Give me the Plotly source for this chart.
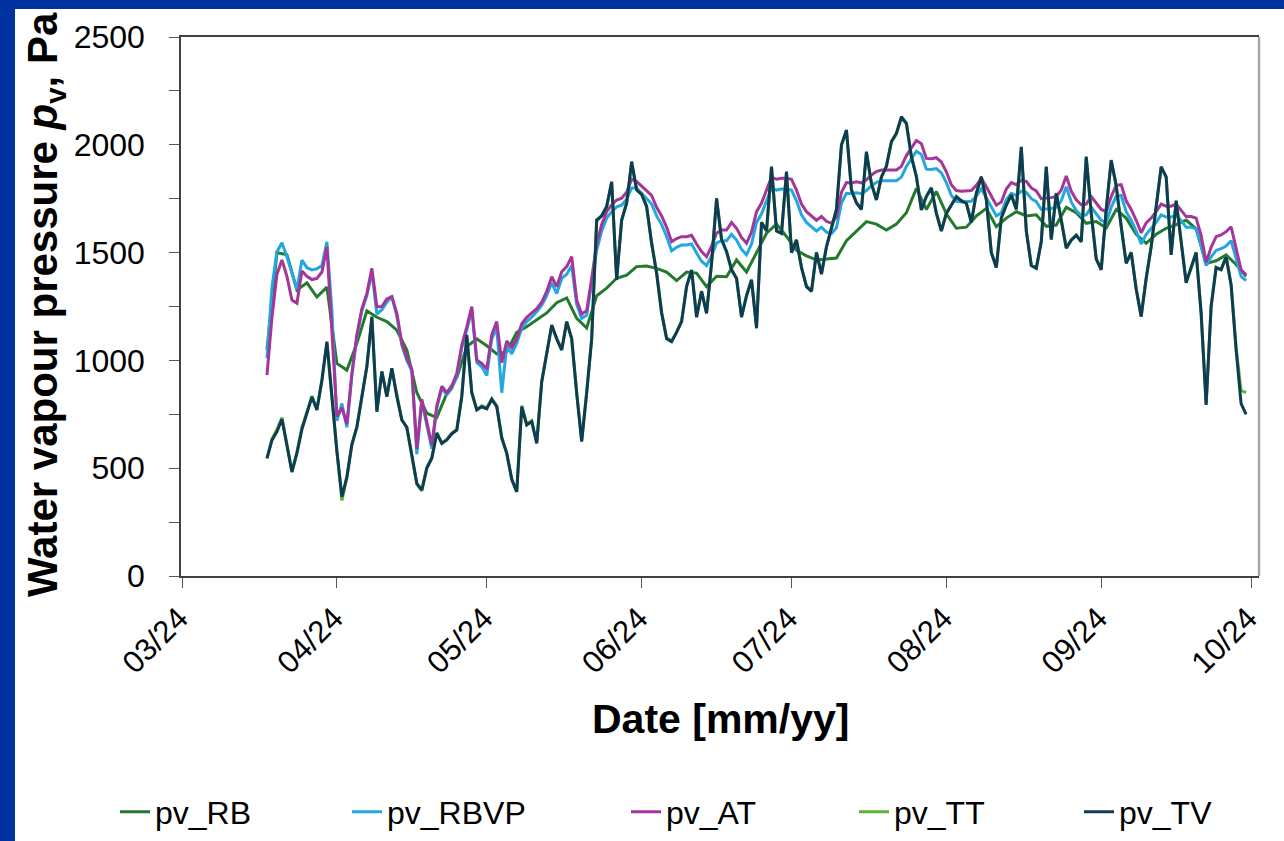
import pandas as pd
import plotly.graph_objects as go

# ---------------- data (daily values, Pa) ----------------
start_day = "2024-03-18"

# pv_TV, daily from 18 Mar to 30 Sep 2024
tv_mar = [546, 630, 670, 727, 605, 484, 570, 680, 756, 830, 770, 909, 1087, 820]
tv_apr = [580, 368, 460, 610, 692, 830, 971, 1203, 762, 948, 832, 963, 832, 723, 690,
          560, 430, 399, 500, 546, 662, 615, 631, 660, 677, 832, 1118, 850, 770, 785]
tv_may = [775, 820, 785, 640, 570, 450, 390, 785, 700, 716, 615, 900, 1033, 1164, 1100,
          1048, 1180, 1100, 847, 623, 850, 1100, 1651, 1670, 1713, 1829, 1373, 1650, 1729, 1922, 1790]
tv_jun = [1770, 1713, 1543, 1404, 1220, 1100, 1087, 1130, 1180, 1342, 1419, 1200, 1320, 1218, 1450,
          1752, 1560, 1504, 1420, 1380, 1200, 1300, 1373, 1149, 1640, 1600, 1899, 1600, 1589, 1876]
tv_jul = [1500, 1558, 1430, 1342, 1320, 1500, 1400, 1527, 1610, 1700, 2000, 2069, 1790, 1730, 1700,
          1968, 1820, 1744, 1850, 1900, 2015, 2054, 2130, 2100, 1945, 1852, 1698, 1760, 1800, 1682, 1600]
tv_aug = [1682, 1720, 1759, 1740, 1729, 1640, 1775, 1852, 1744, 1500, 1430, 1660, 1720, 1767, 1700,
          1990, 1600, 1440, 1427, 1550, 1899, 1560, 1775, 1650, 1520, 1558, 1580, 1550, 1945, 1682, 1470]
tv_sep = [1420, 1700, 1929, 1810, 1620, 1450, 1500, 1330, 1203, 1380, 1527, 1700, 1899, 1850, 1489,
          1740, 1560, 1360, 1430, 1500, 1218, 793, 1250, 1430, 1420, 1480, 1350, 1050, 800, 750]

# pv_TT, daily
tt_mar = [546, 635, 680, 735, 610, 480, 575, 690, 760, 835, 775, 905, 1080, 815]
tt_apr = [575, 350, 455, 612, 690, 835, 975, 1195, 765, 950, 835, 960, 835, 725, 688,
          555, 425, 395, 505, 550, 665, 618, 633, 662, 680, 835, 1110, 852, 772, 790]
tt_may = [780, 822, 790, 645, 568, 445, 392, 790, 705, 720, 618, 905, 1035, 1160, 1102,
          1050, 1178, 1102, 850, 628, 852, 1098, 1645, 1672, 1715, 1825, 1380, 1652, 1730, 1915, 1792]
tt_jun = [1772, 1715, 1545, 1408, 1225, 1105, 1090, 1132, 1182, 1345, 1420, 1205, 1322, 1220, 1452,
          1748, 1562, 1506, 1422, 1382, 1205, 1302, 1375, 1155, 1642, 1602, 1895, 1602, 1590, 1872]
tt_jul = [1502, 1560, 1432, 1345, 1322, 1502, 1402, 1528, 1612, 1702, 1995, 2065, 1792, 1732, 1702,
          1962, 1822, 1746, 1852, 1902, 2012, 2050, 2125, 2098, 1947, 1854, 1700, 1762, 1802, 1684, 1602]
tt_aug = [1684, 1722, 1760, 1742, 1730, 1642, 1776, 1850, 1746, 1502, 1432, 1662, 1722, 1768, 1702,
          1985, 1602, 1442, 1430, 1552, 1895, 1562, 1776, 1652, 1522, 1560, 1582, 1552, 1940, 1684, 1472]
tt_sep = [1422, 1702, 1925, 1812, 1622, 1452, 1502, 1332, 1205, 1382, 1528, 1702, 1895, 1852, 1492,
          1742, 1562, 1362, 1432, 1502, 1222, 800, 1252, 1432, 1422, 1482, 1352, 1060, 860, 850]

# pv_AT, daily
at_mar = [932, 1200, 1400, 1466, 1390, 1280, 1265, 1415, 1390, 1375, 1380, 1410, 1527, 1150]
at_apr = [740, 780, 705, 940, 1120, 1240, 1311, 1427, 1249, 1250, 1285, 1296, 1218, 1080, 1010,
          960, 590, 820, 720, 607, 790, 880, 850, 880, 940, 1071, 1156, 1249, 1002, 986]
at_may = [960, 1120, 1180, 990, 1090, 1060, 1100, 1170, 1200, 1218, 1240, 1270, 1320, 1388, 1342,
          1411, 1435, 1481, 1280, 1215, 1230, 1380, 1540, 1630, 1690, 1721, 1744, 1752, 1780, 1840, 1830]
at_jun = [1808, 1788, 1765, 1710, 1670, 1618, 1550, 1565, 1574, 1574, 1580, 1540, 1505, 1481, 1530,
          1590, 1605, 1605, 1640, 1613, 1570, 1543, 1595, 1690, 1730, 1790, 1850, 1840, 1845, 1845]
at_jul = [1840, 1790, 1725, 1690, 1670, 1650, 1668, 1645, 1636, 1665, 1780, 1825, 1823, 1828, 1823,
          1838, 1860, 1876, 1883, 1883, 1883, 1883, 1900, 1950, 1985, 2020, 2005, 1937, 1935, 1940, 1920]
at_aug = [1875, 1815, 1788, 1785, 1788, 1788, 1812, 1845, 1805, 1762, 1720, 1735, 1795, 1825, 1815,
          1835, 1830, 1800, 1786, 1750, 1752, 1755, 1760, 1790, 1855, 1785, 1745, 1722, 1725, 1760, 1730]
at_sep = [1700, 1690, 1760, 1812, 1815, 1740, 1700, 1650, 1592, 1638, 1660, 1690, 1725, 1715, 1715,
          1725, 1698, 1667, 1667, 1660, 1580, 1455, 1525, 1574, 1582, 1597, 1620, 1520, 1420, 1397]

# pv_RBVP, daily
rbvp_mar = [1010, 1340, 1504, 1546, 1480, 1400, 1330, 1465, 1430, 1420, 1425, 1440, 1550, 1230]
rbvp_apr = [720, 800, 690, 930, 1110, 1230, 1300, 1410, 1215, 1235, 1270, 1296, 1205, 1070, 1000,
            950, 565, 810, 700, 590, 780, 870, 840, 870, 925, 1060, 1140, 1235, 990, 970]
rbvp_may = [930, 1100, 1150, 850, 1070, 1030, 1080, 1150, 1180, 1200, 1225, 1255, 1300, 1360, 1310,
            1380, 1400, 1440, 1260, 1195, 1210, 1360, 1510, 1600, 1660, 1690, 1712, 1720, 1748, 1800, 1800]
rbvp_jun = [1775, 1752, 1725, 1670, 1630, 1575, 1508, 1525, 1535, 1535, 1540, 1498, 1460, 1440, 1485,
            1545, 1555, 1555, 1585, 1558, 1515, 1490, 1540, 1640, 1680, 1740, 1800, 1790, 1795, 1795]
rbvp_jul = [1790, 1740, 1675, 1640, 1620, 1600, 1618, 1595, 1588, 1615, 1730, 1775, 1773, 1778, 1773,
            1788, 1810, 1826, 1833, 1833, 1833, 1833, 1850, 1900, 1935, 1970, 1955, 1887, 1885, 1890, 1870]
rbvp_aug = [1825, 1765, 1738, 1735, 1738, 1738, 1762, 1795, 1755, 1712, 1670, 1685, 1745, 1775, 1765,
            1785, 1780, 1750, 1736, 1700, 1702, 1705, 1710, 1740, 1805, 1735, 1695, 1672, 1675, 1710, 1680]
rbvp_sep = [1650, 1640, 1710, 1762, 1765, 1690, 1650, 1600, 1540, 1585, 1610, 1640, 1675, 1665, 1665,
            1675, 1648, 1617, 1617, 1610, 1530, 1440, 1480, 1510, 1518, 1530, 1555, 1470, 1390, 1370]

# pv_RB, every second day from 18 Mar
rb = [1050, 1500, 1490, 1326, 1360, 1294, 1340, 986, 955, 1079,
      1230, 1200, 1180, 1140, 1048, 850, 755, 735, 847, 920,
      1064, 1100, 1068, 1030, 1040, 1130, 1156, 1190, 1220, 1268,
      1290, 1195, 1150, 1300, 1335, 1381, 1395, 1435, 1438, 1427,
      1410, 1370, 1410, 1405, 1342, 1390, 1388, 1466, 1410, 1500,
      1590, 1632, 1575, 1510, 1485, 1466, 1470, 1475, 1555, 1600,
      1644, 1632, 1605, 1632, 1685, 1798, 1700, 1783, 1680, 1613,
      1618, 1670, 1705, 1620, 1660, 1690, 1670, 1675, 1622, 1628,
      1710, 1685, 1636, 1644, 1615, 1700, 1660, 1585, 1543, 1585,
      1613, 1630, 1651, 1610, 1450, 1462, 1489, 1445, 1390]

tv = tv_mar + tv_apr + tv_may + tv_jun + tv_jul + tv_aug + tv_sep
tt = tt_mar + tt_apr + tt_may + tt_jun + tt_jul + tt_aug + tt_sep
at = at_mar + at_apr + at_may + at_jun + at_jul + at_aug + at_sep
rbvp = rbvp_mar + rbvp_apr + rbvp_may + rbvp_jun + rbvp_jul + rbvp_aug + rbvp_sep

dates_daily = pd.date_range(start_day, periods=len(tv), freq="D")
dates_2day = pd.date_range(start_day, periods=len(rb), freq="2D")

series_names = ["pv_RB", "pv_RBVP", "pv_AT", "pv_TT", "pv_TV"]
series_colors = ["#237a2d", "#22a7e0", "#a53599", "#5bb534", "#0f3c55"]

FONT = "Arial, Liberation Sans, Helvetica, sans-serif"

# plot-area geometry (pixels)
W, H = 1284, 841
L, R, T, B = 181, 1259, 37, 576
PW, PH = R - L, B - T


def px(x):
    return (x - L) / PW


def py(y):
    return (B - y) / PH


fig = go.Figure()
data = [(dates_2day, rb), (dates_daily, rbvp), (dates_daily, at), (dates_daily, tt), (dates_daily, tv)]
legend_ids = ["legend", "legend2", "legend3", "legend4", "legend5"]
for (xs, ys), name, col, lg in zip(data, series_names, series_colors, legend_ids):
    fig.add_trace(go.Scatter(x=xs, y=ys, mode="lines", name=name,
                             line=dict(color=col, width=3), legend=lg))

legend_line_x = [118, 350, 629, 857, 1082]
legend_cfg = {}
for lg, lx in zip(legend_ids, legend_line_x):
    legend_cfg[lg] = dict(x=px(lx - 3), y=py(812), xanchor="left", yanchor="middle",
                          orientation="h", bgcolor="rgba(0,0,0,0)", borderwidth=0,
                          font=dict(family=FONT, size=32, color="black"))

fig.update_layout(
    width=W, height=H,
    margin=dict(l=L, r=W - R, t=T, b=H - B, autoexpand=False),
    paper_bgcolor="white", plot_bgcolor="white",
    showlegend=True,
    font=dict(family=FONT, color="black"),
    **legend_cfg,
)

fig.update_xaxes(
    type="date",
    range=["2024-02-29 19:00", "2024-10-02 14:00"],
    tick0="2024-03-01", dtick="M1", tickformat="%m/%y",
    tickangle=-45,
    ticks="outside", ticklen=10, tickcolor="#595959", tickwidth=1.3,
    showline=True, linecolor="#404040", linewidth=1.5, mirror=True,
    showgrid=False, zeroline=False, automargin=False,
    ticklabelshift=-3,
    tickfont=dict(family=FONT, size=31, color="black"),
)
fig.update_yaxes(
    range=[0, 2500], dtick=500, tick0=0,
    ticks="outside", ticklen=10, tickcolor="#595959", tickwidth=1.3,
    minor=dict(dtick=250, ticks="outside", ticklen=10, tickcolor="#595959", tickwidth=1.3, showgrid=False),
    showline=True, linecolor="#404040", linewidth=1.5,
    showgrid=False, zeroline=False, automargin=False,
    ticklabelstandoff=18,
    tickfont=dict(family=FONT, size=32, color="black"),
)

# right border of plot area (lighter grey)
fig.add_shape(type="line", xref="paper", yref="paper", x0=1, x1=1, y0=0, y1=1,
              line=dict(color="#a6a6a6", width=2.5), layer="above")

# blue frame (top and left bands)
fig.add_shape(type="rect", xref="paper", yref="paper",
              x0=px(-2), x1=px(W + 2), y0=py(9), y1=py(-2),
              fillcolor="#0033a0", line=dict(width=0), layer="above")
fig.add_shape(type="rect", xref="paper", yref="paper",
              x0=px(-2), x1=px(15), y0=py(H + 2), y1=py(-2),
              fillcolor="#0033a0", line=dict(width=0), layer="above")

# axis titles
fig.add_annotation(text="<b>Water vapour pressure <i>p</i><sub>v</sub>, Pa</b>",
                   xref="paper", yref="paper", x=px(45), y=py(305),
                   xanchor="center", yanchor="middle", textangle=-90, showarrow=False,
                   font=dict(family=FONT, size=42, color="black"))
fig.add_annotation(text="<b>Date [mm/yy]</b>",
                   xref="paper", yref="paper", x=px(720), y=py(719),
                   xanchor="center", yanchor="middle", showarrow=False,
                   font=dict(family=FONT, size=41, color="black"))

fig.write_html("out.html")
